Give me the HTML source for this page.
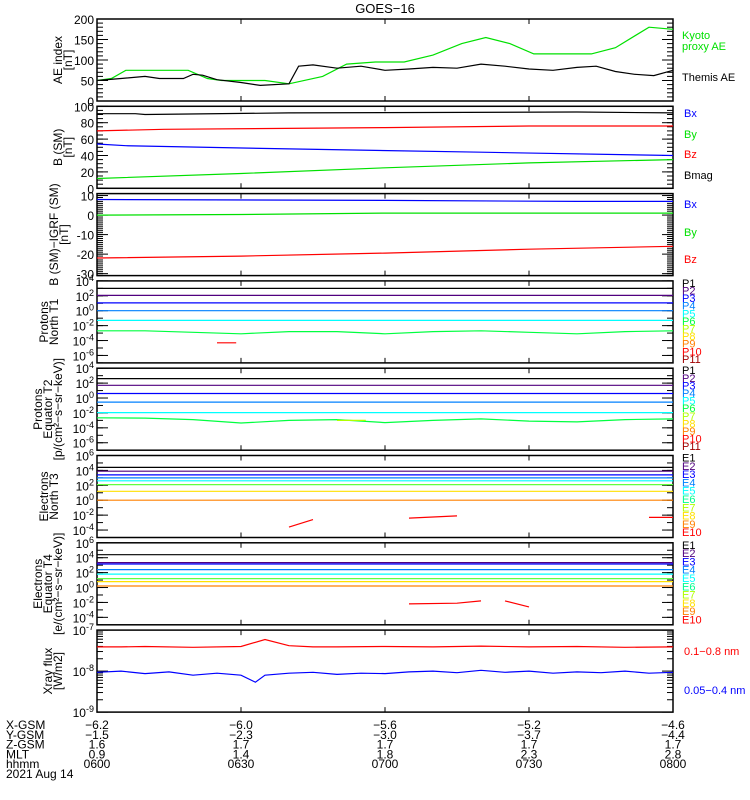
<!DOCTYPE html>
<html><head><meta charset="utf-8"><style>
body{margin:0;background:#fff}
svg{display:block;font-family:"Liberation Sans",sans-serif}
</style></head><body>
<svg id="c" width="750" height="800" xmlns="http://www.w3.org/2000/svg">
<text x="385" y="13" font-size="13" text-anchor="middle">GOES−16</text>
</svg>
<script>
// ---- data (time in minutes after 06:00) ----
const aeKyotoT=[0,3,6,19,23,26,35,40,47,52,58,64,70,76,81,86,91,103,108,115,120];
const aeKyotoV=[50,55,75,75,55,50,50,42,60,90,95,95,112,140,155,140,115,115,130,180,175];
const aeThemisT=[0,5,10,13,18,20,22,25,30,34,40,42,45,50,55,60,65,70,75,80,85,90,95,100,104,108,112,116,120];
const aeThemisV=[50,55,60,55,55,65,63,52,45,38,42,85,88,80,85,75,78,82,80,90,85,78,75,82,85,72,65,62,75];
const bxT=[0,6,40,80,120], bxV=[54,52,48,44,40];
const byT=[0,30,60,90,120], byV=[12,18,25,31,35];
const bzT=[0,14,60,90,120], bzV=[70,72,74,76,76];
const bmT=[0,8,10,40,100,120], bmV=[91,91,90,92,93,92];
const dbxT=[0,60,100,120], dbxV=[8,7.5,7,7];
const dbyT=[0,30,60,120], dbyV=[0,0.3,1,1];
const dbzT=[0,30,60,90,120], dbzV=[-22,-21,-19.5,-17.5,-16];
const p1Levels=[3.0,2.05,1.05,0.0,-1.3];
const p1GreenT=[0,10,20,30,40,50,60,70,80,90,100,110,120], p1GreenV=[-2.7,-2.7,-2.9,-3.1,-2.8,-2.8,-3.1,-2.8,-2.7,-2.9,-3.1,-2.8,-2.7];
const p2Levels=[2.6,1.7,0.6,-0.55,-1.95];
const p2GreenT=[0,10,20,30,40,50,60,70,80,90,100,110,120], p2GreenV=[-2.65,-2.7,-2.9,-3.35,-3.0,-2.9,-3.3,-3.0,-2.8,-3.1,-3.2,-2.9,-2.8];
const eN3Levels=[4.4,3.9,3.4,3.0,2.6,2.1,1.2,0.0];
const eE4Levels=[4.4,3.35,3.15,2.4,1.8,1.2,0.8,0.2];
const xLongT=[0,5,10,20,30,35,40,45,50,60,70,80,90,100,110,120], xLongV=[-7.41,-7.41,-7.4,-7.42,-7.4,-7.23,-7.38,-7.41,-7.41,-7.4,-7.41,-7.39,-7.41,-7.4,-7.42,-7.41];
const xShortT=[0,5,10,15,20,25,30,33,35,40,45,50,55,60,65,70,75,80,85,90,95,100,105,110,115,120], xShortV=[-8.03,-8.0,-8.06,-8.02,-8.1,-8.05,-8.1,-8.27,-8.1,-8.05,-8.03,-8.08,-8.05,-8.06,-8.02,-8.0,-8.04,-7.98,-8.03,-8.0,-8.05,-8.02,-8.04,-8.0,-8.05,-8.03];
const xTickLabels=["0600","0630","0700","0730","0800"];
const xgsm=["−6.2","−6.0","−5.6","−5.2","−4.6"], ygsm=["−1.5","−2.3","−3.0","−3.7","−4.4"], zgsm=["1.6","1.7","1.7","1.7","1.7"], mlt=["0.9","1.4","1.8","2.3","2.8"];

const S=document.getElementById('c'), NS='http://www.w3.org/2000/svg';
const PL=97, PR=673;
const xs=t=>PL+(PR-PL)*t/120;
function mk(tag,a,txt){const e=document.createElementNS(NS,tag);for(const k in a)e.setAttribute(k,a[k]);if(txt!=null)e.textContent=txt;S.appendChild(e);return e;}
function panel(i,lo,hi){const T=19+i*87.3,H=82;return {T,H,y:v=>T+H*(hi-v)/(hi-lo)};}
function line(P,ts,vs,col,name){let d='';ts.forEach((t,k)=>{d+=(k?'L':'M')+xs(t).toFixed(1)+' '+P.y(vs[k]).toFixed(1);});
 const e=mk('path',{d,fill:'none',stroke:col,'stroke-width':1.2});
 
 }
function frame(P,name){const e=mk('rect',{x:PL,y:P.T,width:PR-PL,height:P.H,fill:'none',stroke:'#000','stroke-width':1.5});
 
 
 for(let t=30;t<120;t+=30){mk('line',{x1:xs(t),x2:xs(t),y1:P.T,y2:P.T+5,stroke:'#000'});mk('line',{x1:xs(t),x2:xs(t),y1:P.T+P.H,y2:P.T+P.H-5,stroke:'#000'});}}
function yticks(P,vals,minor,fmt){vals.forEach(v=>{const y=P.y(v);mk('line',{x1:PL,x2:PL+11,y1:y,y2:y,stroke:'#000'});mk('line',{x1:PR,x2:PR-11,y1:y,y2:y,stroke:'#000'});
 const t=mk('text',{x:PL-3,y:y+5,'font-size':12,'text-anchor':'end'});
 
 
 fmt(t,v);});
 minor.forEach(v=>{const y=P.y(v);mk('line',{x1:PL,x2:PL+6,y1:y,y2:y,stroke:'#000'});mk('line',{x1:PR,x2:PR-6,y1:y,y2:y,stroke:'#000'});});}
const plain=(t,v)=>{t.textContent=v;};
const pow=(t,v)=>{t.textContent='10';const s=document.createElementNS(NS,'tspan');s.setAttribute('dy',-5);s.setAttribute('font-size',9);s.textContent=v;t.appendChild(s);};
function ytitle(P,lines,name,lastX){const cx=P.T+P.H/2;const g=mk('text',{transform:`translate(0,${cx}) rotate(-90)`,'font-size':12,'text-anchor':'middle'});
 
 
 lines.forEach((l,k)=>{const s=document.createElementNS(NS,'tspan');s.setAttribute('x',0);s.setAttribute('y',lastX-(lines.length-1-k)*10);s.textContent=l;g.appendChild(s);});}
function legend(items,x){items.forEach(([txt,y,col])=>{const e=mk('text',{x,y,'font-size':11,fill:col},txt);
 
 });}
const range=(a,b,s)=>{const r=[];for(let v=a;v<=b+1e-9;v+=s)r.push(+v.toFixed(3));return r;};

let P=panel(0,0,200);frame(P,'ae-panel');yticks(P,[0,50,100,150,200],range(0,200,10),plain);ytitle(P,['AE index','[nT]'],'ae-y-title',72);
line(P,aeKyotoT,aeKyotoV,'#00e000','kyoto-ae-line');line(P,aeThemisT,aeThemisV,'#000','themis-ae-line');
legend([['Kyoto',39,'#00e000'],['proxy AE',50,'#00e000'],['Themis AE',81,'#000']],682);

P=panel(1,0,100);frame(P,'b-sm-panel');yticks(P,[0,20,40,60,80,100],range(0,100,5),plain);ytitle(P,['B (SM)','[nT]'],'b-sm-y-title',72);
line(P,bmT,bmV,'#000','bmag-line');line(P,bzT,bzV,'#f00','bz-line');line(P,bxT,bxV,'#00f','bx-line');line(P,byT,byV,'#00e000','by-line');
legend([['Bx',117,'#00f'],['By',138,'#00e000'],['Bz',158,'#f00'],['Bmag',179,'#000']],684);

P=panel(2,-31,11);frame(P,'b-igrf-panel');yticks(P,[-30,-20,-10,0,10],range(-31,11,1),plain);ytitle(P,['B (SM)−IGRF (SM)','[nT]'],'b-igrf-y-title',68);
line(P,dbxT,dbxV,'#00f','dbx-line');line(P,dbyT,dbyV,'#00e000','dby-line');line(P,dbzT,dbzV,'#f00','dbz-line');
legend([['Bx',208,'#00f'],['By',236,'#00e000'],['Bz',263,'#f00']],684);

const pCols=['#000','#50007f','#0000ff','#0080ff','#00ffff','#00ff40','#b0ff00','#ffe000','#ff8000','#ff0000','#a00000'];
const pNames=['P1','P2','P3','P4','P5','P6','P7','P8','P9','P10','P11'];
const eCols=['#000','#50007f','#0000ff','#0080ff','#00ffff','#00ff90','#b0ff00','#ffe000','#ff8000','#ff0000','#a00000'];
const eNames=['E1','E2','E3','E4','E5','E6','E7','E8','E9','E10'];
const eLineCols=['#000','#50007f','#0000ff','#0080ff','#00ffff','#60ff40','#ffe000','#ff8000'];

P=panel(3,-7,4);frame(P,'protons-t1-panel');yticks(P,[4,2,0,-2,-4,-6],range(-7,4,1),pow);ytitle(P,['Protons','North T1'],'protons-t1-y-title',58);
p1Levels.forEach((v,k)=>line(P,[0,120],[v,v],pCols[k],'proton-p'+(k+1)));
line(P,p1GreenT,p1GreenV,'#00ff40','proton-p6');
line(P,[25,29],[-4.3,-4.3],'#f00','proton-p10-fragment');
legend(pNames.map((n,k)=>[n,P.T+6+k*7.6,pCols[k]]),682);

P=panel(4,-7,4);frame(P,'protons-t2-panel');yticks(P,[4,2,0,-2,-4,-6],range(-7,4,1),pow);ytitle(P,['Protons','Equator T2','[p/(cm²−s−sr−keV)]'],'protons-t2-y-title',62);
p2Levels.forEach((v,k)=>line(P,[0,120],[v,v],pCols[k],'proton-p'+(k+1)));
line(P,p2GreenT,p2GreenV,'#00ff40','proton2-p6');
line(P,[50,56],[-3.0,-3.0],'#b0ff00','proton2-p7-fragment');
legend(pNames.map((n,k)=>[n,P.T+6+k*7.6,pCols[k]]),682);

P=panel(5,-5,6);frame(P,'electrons-t3-panel');yticks(P,[6,4,2,0,-2,-4],range(-5,6,1),pow);ytitle(P,['Electrons','North T3'],'electrons-t3-y-title',58);
eN3Levels.forEach((v,k)=>line(P,[0,120],[v,v],eLineCols[k],'electron-e'+(k+1)));
line(P,[40,45],[-3.6,-2.6],'#f00','electron-e9-frag1');line(P,[65,75],[-2.4,-2.1],'#f00','electron-e9-frag2');line(P,[115,120],[-2.3,-2.3],'#f00','electron-e9-frag3');
legend(eNames.map((n,k)=>[n,P.T+6+k*8.3,eCols[k]]),682);

P=panel(6,-5,6);frame(P,'electrons-t4-panel');yticks(P,[6,4,2,0,-2,-4],range(-5,6,1),pow);ytitle(P,['Electrons','Equator T4','[e/(cm²−s−sr−keV)]'],'electrons-t4-y-title',62);
eE4Levels.forEach((v,k)=>line(P,[0,120],[v,v],eLineCols[k],'electron2-e'+(k+1)));
line(P,[65,75,80],[-2.2,-2.1,-1.8],'#f00','electron2-e9-frag1');line(P,[85,90],[-1.8,-2.6],'#f00','electron2-e9-frag2');
legend(eNames.map((n,k)=>[n,P.T+6+k*8.3,eCols[k]]),682);

P=panel(7,-9,-7);frame(P,'xray-panel');
yticks(P,[-7,-8,-9],[],pow);
[-9,-8].forEach(b=>[2,3,4,5,6,7,8,9].forEach(m=>{const y=P.y(b+Math.log10(m));mk('line',{x1:PL,x2:PL+6,y1:y,y2:y,stroke:'#000'});mk('line',{x1:PR,x2:PR-6,y1:y,y2:y,stroke:'#000'});}));
ytitle(P,['Xray flux','[W/m2]'],'xray-y-title',62);
line(P,xLongT,xLongV,'#f00','xray-long-line');line(P,xShortT,xShortV,'#00f','xray-short-line');
legend([['0.1−0.8 nm',P.T+25,'#f00'],['0.05−0.4 nm',P.T+64,'#00f']],684);

const rows=[['X-GSM',xgsm],['Y-GSM',ygsm],['Z-GSM',zgsm],['MLT',mlt],['hhmm',xTickLabels]];
rows.forEach(([lab,vals],r)=>{const y=729+r*9.8;
 const l=mk('text',{x:6,y,'font-size':12},lab);
 
 
 vals.forEach((v,k)=>{const e=mk('text',{x:xs(k*30),y,'font-size':12,'text-anchor':'middle'},v);
  
  });});
const d=mk('text',{x:6,y:778,'font-size':12},'2021 Aug 14');


</script>
</body></html>
